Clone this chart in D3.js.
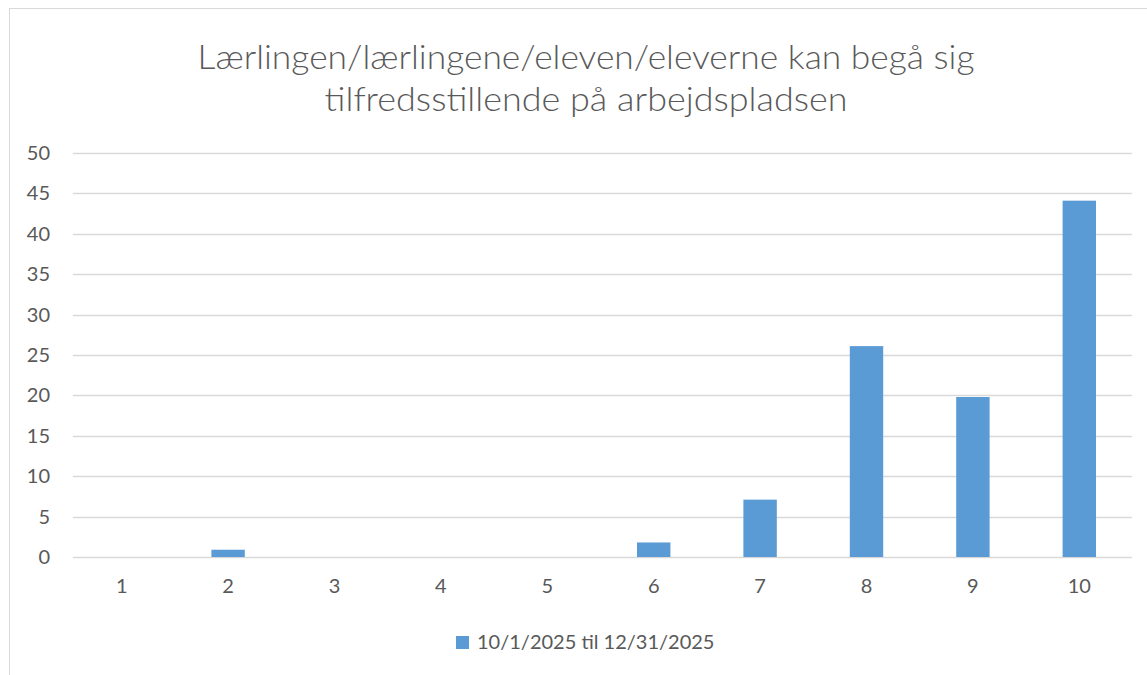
<!DOCTYPE html>
<html>
<head>
<meta charset="utf-8">
<script src="https://cdn.jsdelivr.net/npm/d3@7"></script>
<style>
  body { margin: 0; background: #fff; }
  svg text { font-family: Lato, "Open Sans", sans-serif; fill: #595959; }
</style>
</head>
<body>
<svg id="chart"></svg>
<script>
// chart data
const categories = ["1", "2", "3", "4", "5", "6", "7", "8", "9", "10"];
const values = [0, 0.9, 0, 0, 0, 1.8, 7.1, 26.1, 19.8, 44.1];
const yTicks = [0, 5, 10, 15, 20, 25, 30, 35, 40, 45, 50];
const seriesName = "10/1/2025 til 12/31/2025";
const titleLines = ["Lærlingen/lærlingene/eleven/eleverne kan begå sig", "tilfredsstillende på arbejdspladsen"];
const titleWidths = [777, 523];

const width = 1147, height = 675;
const plot = {left: 73, right: 1132, top: 153, bottom: 557};
const barColor = "#5b9bd5";
const gridColor = "#d9d9d9";

const svg = d3.select("#chart")
    .attr("width", width)
    .attr("height", height);

// chart frame (cut off at right/bottom like the reference)
svg.append("rect")
    .attr("x", 9.5)
    .attr("y", 8.5)
    .attr("width", width + 20)
    .attr("height", height + 20)
    .attr("fill", "none")
    .attr("stroke", gridColor)
    .attr("stroke-width", 1);

// title
svg.append("g")
    .selectAll("text")
    .data(titleLines)
    .enter()
    .append("text")
    .attr("x", 586)
    .attr("y", (d, i) => 69 + i * 42)
    .attr("text-anchor", "middle")
    .attr("font-size", 34)
    .attr("font-weight", 300)
    .attr("textLength", (d, i) => titleWidths[i])
    .attr("lengthAdjust", "spacingAndGlyphs")
    .text(d => d);

// categories span a slightly wider band than the gridlines
const x = d3.scaleBand()
    .domain(categories)
    .range([68.5, 1132.5])
    .paddingInner(0.686)
    .paddingOuter(0.343);

const y = d3.scaleLinear()
    .domain([0, 50])
    .range([plot.bottom, plot.top]);

// gridlines
svg.append("g")
    .selectAll("line")
    .data(yTicks)
    .enter()
    .append("line")
    .attr("x1", plot.left)
    .attr("x2", plot.right)
    .attr("y1", d => Math.round(y(d)) + 0.5)
    .attr("y2", d => Math.round(y(d)) + 0.5)
    .attr("stroke", gridColor)
    .attr("stroke-width", 1.5);

// y axis labels
const yAxis = svg.append("g")
    .attr("transform", `translate(${plot.left - 23},0)`)
    .call(d3.axisLeft(y).tickValues(yTicks).tickSize(0).tickPadding(0));
yAxis.select(".domain").remove();
yAxis.selectAll("text")
    .attr("font-size", 20)
    .attr("font-family", "Lato, sans-serif")
    .attr("fill", "#595959");

// bars
svg.append("g")
    .selectAll("rect")
    .data(categories.map((c, i) => ({cat: c, val: values[i]})))
    .enter()
    .append("rect")
    .attr("x", d => x(d.cat))
    .attr("y", d => y(d.val))
    .attr("width", x.bandwidth())
    .attr("height", d => y(0) - y(d.val))
    .attr("fill", barColor);

// x axis labels
const xAxis = svg.append("g")
    .attr("transform", `translate(0,${plot.bottom + 22})`)
    .call(d3.axisBottom(x).tickSize(0).tickPadding(0));
xAxis.select(".domain").remove();
xAxis.selectAll("text")
    .attr("font-size", 20)
    .attr("font-family", "Lato, sans-serif")
    .attr("fill", "#595959");

// legend
const legend = svg.append("g").attr("transform", "translate(456,636)");
legend.append("rect")
    .attr("width", 13)
    .attr("height", 13)
    .attr("fill", barColor);
legend.append("text")
    .attr("x", 21)
    .attr("y", 13)
    .attr("font-size", 20)
    .text(seriesName);
</script>
</body>
</html>
